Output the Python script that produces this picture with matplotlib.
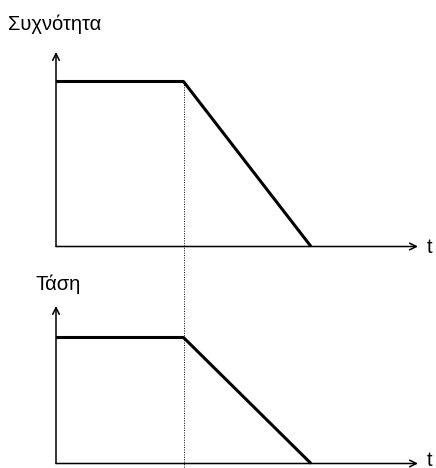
import matplotlib
matplotlib.use("Agg")
import matplotlib.pyplot as plt

# Data
time_pts = [0, 1, 2]          # start, break point, end of ramp
frequency = [1, 1, 0]
voltage = [1, 1, 0]
labels_y = ["Συχνότητα", "Τάση"]
label_x = "t"

W, H = 436, 468
fig = plt.figure(figsize=(W / 100, H / 100), dpi=100)
plt.rcParams['font.family'] = ['Liberation Sans', 'DejaVu Sans']

# pixel mapping helpers for limits
x0, xs = 56, 127.5
def xlim():
    return (-x0 / xs, (W - x0) / xs)

def make_ax(base_px, scale):
    ax = fig.add_axes([0, 0, 1, 1])
    ax.set_xlim(*xlim())
    ax.set_ylim((base_px - H) / scale, base_px / scale)
    ax.axis('off')
    ax.patch.set_alpha(0)
    return ax

ax1 = make_ax(246.5, 165)
ax2 = make_ax(463.5, 126)

x_tip = (418 - x0) / xs
arrow = dict(arrowstyle='->', lw=1.1, color='black', mutation_scale=12, shrinkA=0, shrinkB=0)

for ax, vals, ytip in [
    (ax1, frequency, (246.5 - 52) / 165),
    (ax2, voltage, (463.5 - 306) / 126),
]:
    ax.annotate('', xy=(0, ytip), xytext=(0, 0), arrowprops=arrow)
    ax.annotate('', xy=(x_tip, 0), xytext=(0, 0), arrowprops=arrow)
    ax.plot(time_pts, vals, color='black', lw=2.2, solid_capstyle='butt')

fig.text(8 / W, 1 - 30 / H, labels_y[0], fontsize=14.5, ha='left', va='baseline')
fig.text(35 / W, 1 - 290 / H, labels_y[1], fontsize=14.5, ha='left', va='baseline')
fig.text(427 / W, 1 - 253 / H, label_x, fontsize=14.5, ha='left', va='baseline')
fig.text(427 / W, 1 - 466 / H, label_x, fontsize=14.5, ha='left', va='baseline')

# dotted guide from top break point down to bottom of figure
ax1.plot([time_pts[1], time_pts[1]], [frequency[1], (246.5 - H) / 165],
         color='black', lw=0.7, ls=(0, (1, 1.5)), clip_on=False)

fig.savefig('out.png', dpi=100)
